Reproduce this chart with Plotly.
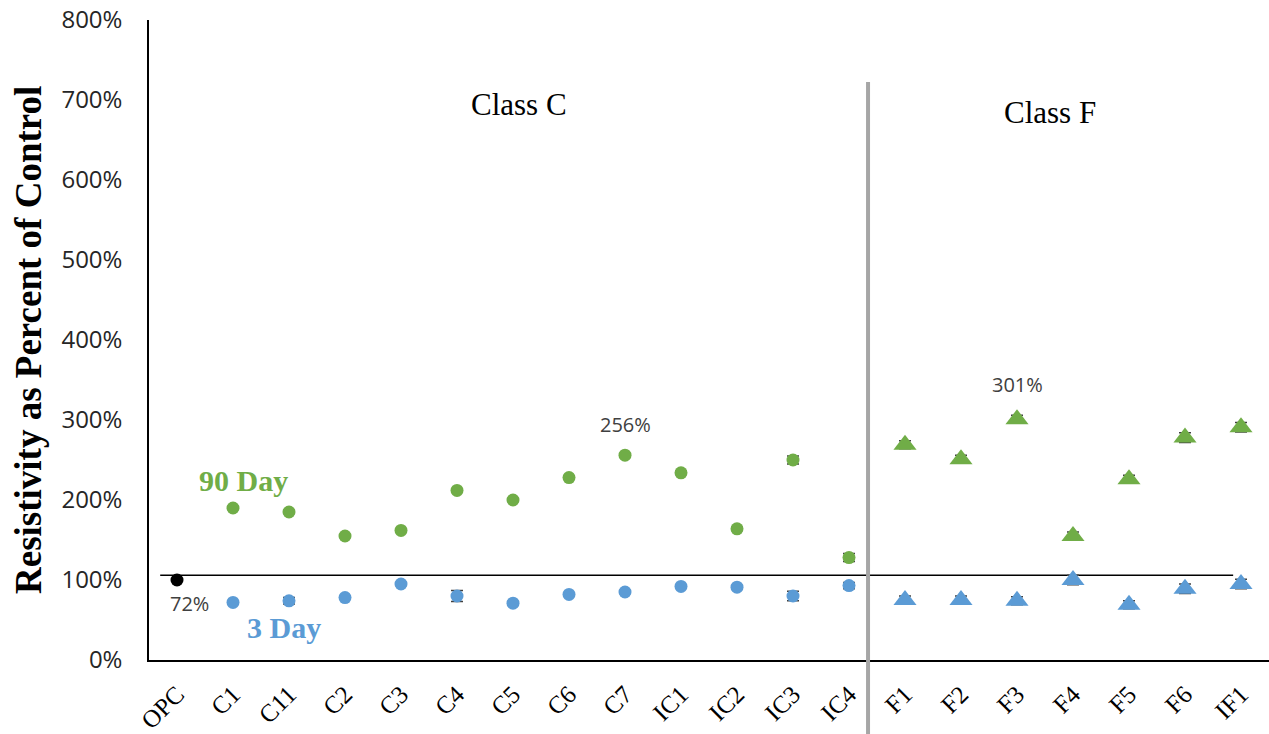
import plotly.graph_objects as go

categories = ["OPC", "C1", "C11", "C2", "C3", "C4", "C5", "C6", "C7", "IC1", "IC2", "IC3", "IC4",
              "F1", "F2", "F3", "F4", "F5", "F6", "IF1"]

opc_cat = ["OPC"]
opc_val = [100]

class_c_cats = ["C1", "C11", "C2", "C3", "C4", "C5", "C6", "C7", "IC1", "IC2", "IC3", "IC4"]
day90_c = [190, 185, 155, 162, 212, 200, 228, 256, 234, 164, 250, 128]
day90_c_err = [2, 2, 2, 2, 2, 2, 2, 2, 2, 2, 5, 5]
day3_c = [72, 74, 78, 95, 80, 71, 82, 85, 92, 91, 80, 93]
day3_c_err = [2, 4, 2, 2, 7, 2, 2, 2, 2, 2, 6, 4]

class_f_cats = ["F1", "F2", "F3", "F4", "F5", "F6", "IF1"]
day90_f = [269, 251, 301, 155, 226, 278, 291]
day90_f_err = [5, 5, 5, 5, 5, 6, 6]
day3_f = [75, 75, 74, 100, 69, 89, 95]
day3_f_err = [5, 5, 5, 6, 5, 6, 6]

yticks = [0, 100, 200, 300, 400, 500, 600, 700, 800]
ytick_text = ["0%", "100%", "200%", "300%", "400%", "500%", "600%", "700%", "800%"]

control_level = 106

GREEN = "#70AD47"
BLUE = "#5B9BD5"
ERR = "#404040"

fig = go.Figure()

def err(vals):
    return dict(type="data", array=vals, visible=True, color=ERR, thickness=1.5, width=6)

fig.add_trace(go.Scatter(x=opc_cat, y=opc_val, mode="markers",
                         marker=dict(color="black", size=13, symbol="circle"), showlegend=False))
fig.add_trace(go.Scatter(x=class_c_cats, y=day90_c, mode="markers", error_y=err(day90_c_err),
                         marker=dict(color=GREEN, size=13, symbol="circle"), showlegend=False))
fig.add_trace(go.Scatter(x=class_c_cats, y=day3_c, mode="markers", error_y=err(day3_c_err),
                         marker=dict(color=BLUE, size=13, symbol="circle"), showlegend=False))
fig.add_trace(go.Scatter(x=class_f_cats, y=day90_f, mode="markers", error_y=err(day90_f_err),
                         marker=dict(color=GREEN, size=20, symbol="triangle-up"), showlegend=False))
fig.add_trace(go.Scatter(x=class_f_cats, y=day3_f, mode="markers", error_y=err(day3_f_err),
                         marker=dict(color=BLUE, size=20, symbol="triangle-up"), showlegend=False))

# control reference line
fig.add_shape(type="line", xref="x", yref="y", x0=-0.3, x1=18.86, y0=control_level, y1=control_level,
              line=dict(color="black", width=1.5), layer="below")
# class divider
fig.add_shape(type="line", xref="x", yref="paper", x0=12.34, x1=12.34, y0=-0.13, y1=0.903,
              line=dict(color="#A6A6A6", width=4))

serif = "Liberation Serif"
sans = "Open Sans"

annots = [
    dict(x=6.1, y=694, text="Class C", font=dict(family=serif, size=31, color="black")),
    dict(x=15.59, y=684, text="Class F", font=dict(family=serif, size=31, color="black")),
    dict(x=1.18, y=224, text="<b>90 Day</b>", font=dict(family=serif, size=30, color=GREEN)),
    dict(x=1.91, y=41, text="<b>3 Day</b>", font=dict(family=serif, size=30, color=BLUE)),
    dict(x=0.23, y=71, text="72%", font=dict(family=sans, size=20, color="#404040")),
    dict(x=8, y=295, text="256%", font=dict(family=sans, size=20, color="#404040")),
    dict(x=15, y=345, text="301%", font=dict(family=sans, size=20, color="#404040")),
]
for a in annots:
    fig.add_annotation(xref="x", yref="y", showarrow=False, xanchor="center", yanchor="middle", **a)

fig.add_annotation(xref="paper", yref="paper", x=(28 - 149) / 1120, y=(660 - 340) / 640,
                   text="<b>Resistivity as Percent of Control</b>", textangle=-90, showarrow=False,
                   xanchor="center", yanchor="middle",
                   font=dict(family=serif, size=37, color="black"))

fig.update_layout(
    width=1269, height=734,
    margin=dict(l=149, r=0, t=20, b=74, autoexpand=False),
    paper_bgcolor="white", plot_bgcolor="white",
    xaxis=dict(type="category", categoryorder="array", categoryarray=categories,
               range=[-0.5, 19.5], showgrid=False, zeroline=False,
               showline=True, linecolor="black", linewidth=1.5,
               tickangle=-45, ticks="", ticklabelstandoff=8,
               tickfont=dict(family=serif, size=25, color="black"), automargin=False),
    yaxis=dict(range=[0, 800], tickvals=yticks, ticktext=ytick_text, showgrid=False, zeroline=False,
               showline=True, linecolor="black", linewidth=1.5, ticks="",
               ticklabelstandoff=20, ticklabeloverflow="allow",
               tickfont=dict(family=sans, size=24, color="#262626"), automargin=False),
)

# remove the default page margin so the figure fills the window exactly
fig.write_html("out.html", config={"displayModeBar": False},
               post_script="document.body.style.margin='0';document.body.style.overflow='hidden';")
